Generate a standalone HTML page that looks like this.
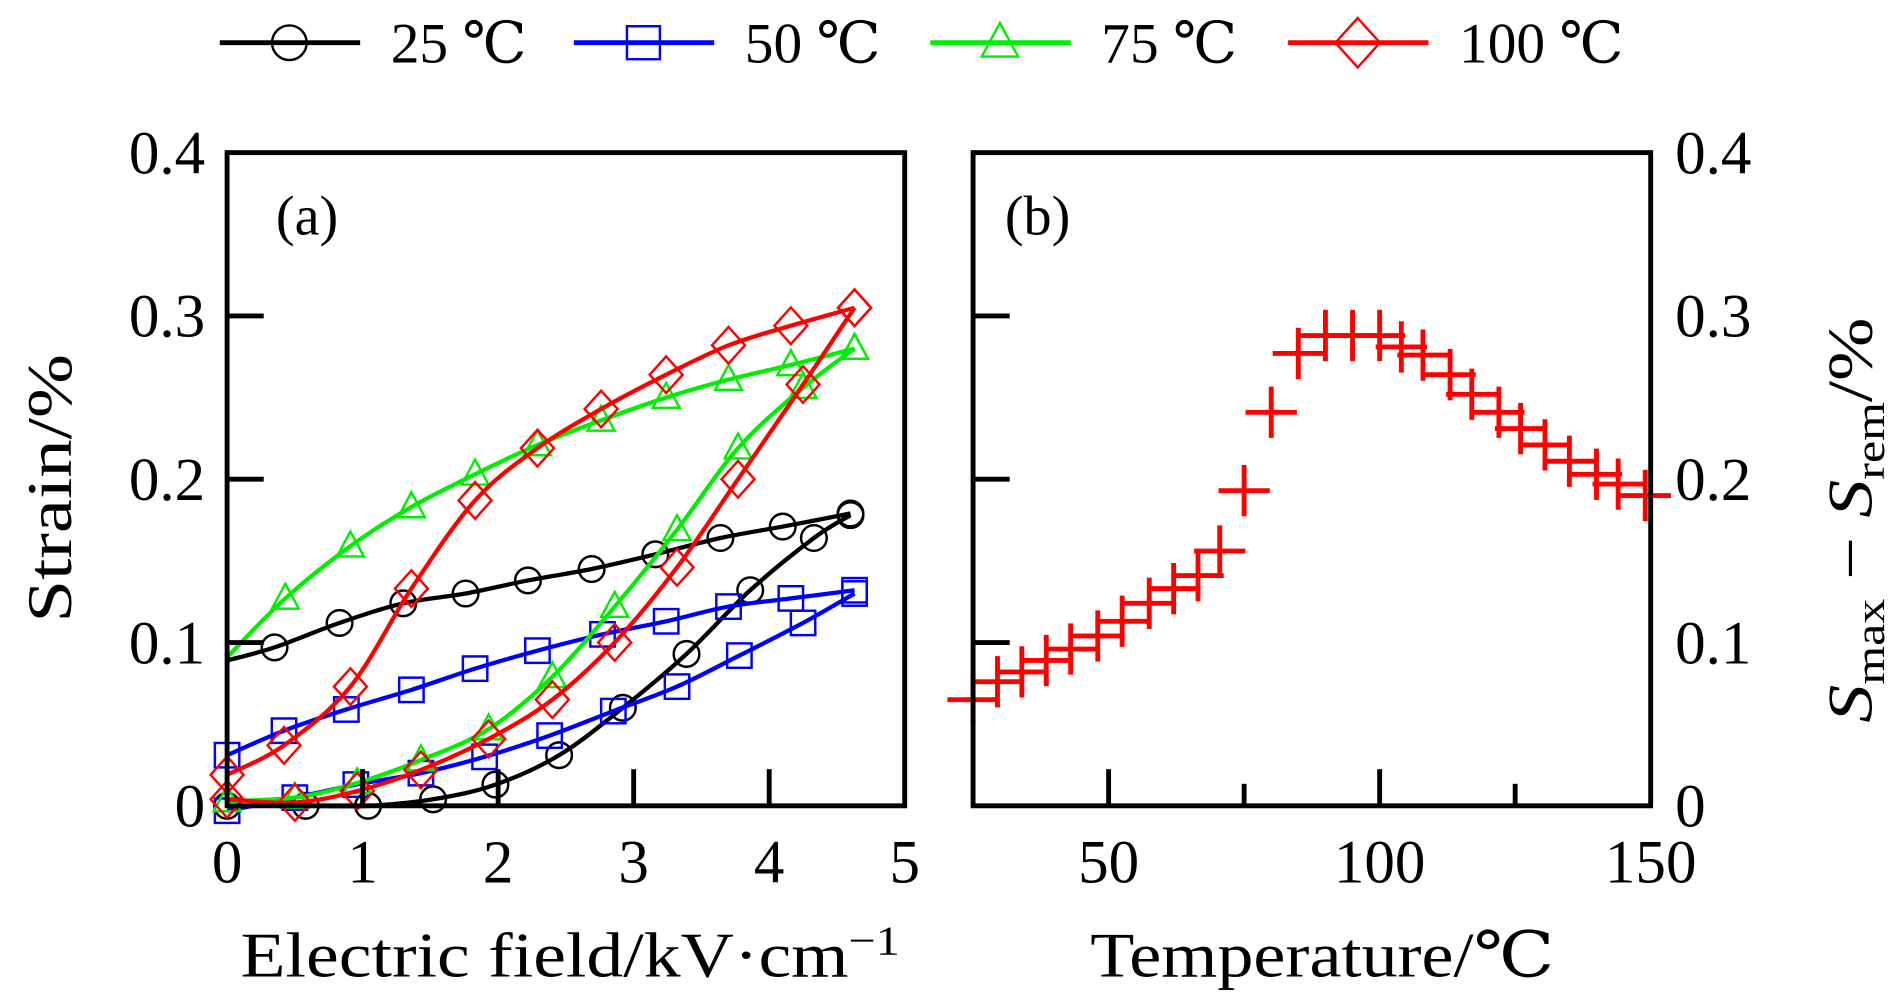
<!DOCTYPE html>
<html><head><meta charset="utf-8"><style>
html,body{margin:0;padding:0;background:#fff;}
svg{display:block;}
text{font-family:"Liberation Serif","DejaVu Serif",serif;fill:#000;}
</style></head><body>
<svg id="chart" width="1890" height="992" viewBox="0 0 1548 812.5" preserveAspectRatio="none">
<g id="legend"></g>
<g id="pa"></g>
<g id="pb"></g>
</svg>
<script>
// Panel (a) data
const seriesNames = ["25 ℃","50 ℃","75 ℃","100 ℃"];
const seriesColors = ["#000000","#0000ff","#00ee00","#ff0000"];
const seriesMarkers = ["circle","square","triangle","diamond"];
const upX_25 = [0,0.35,0.83,1.3,1.76,2.22,2.69,3.16,3.64,4.1,4.6];
const upY_25 = [0.089,0.097,0.112,0.124,0.13,0.138,0.145,0.154,0.164,0.171,0.179];
const loX_25 = [0,0.58,1.04,1.52,1.98,2.45,2.92,3.39,3.86,4.33,4.6];
const loY_25 = [0,0,0,0.004,0.013,0.031,0.06,0.093,0.132,0.164,0.178];
const upX_50 = [0,0.42,0.88,1.36,1.83,2.29,2.77,3.24,3.7,4.16,4.63];
const upY_50 = [0.031,0.046,0.059,0.071,0.084,0.095,0.105,0.113,0.122,0.127,0.132];
const loX_50 = [0,0.5,0.95,1.43,1.9,2.38,2.85,3.32,3.78,4.25,4.63];
const loY_50 = [-0.003,0.005,0.013,0.02,0.03,0.043,0.058,0.073,0.092,0.112,0.13];
const upX_75 = [0,0.43,0.91,1.36,1.83,2.29,2.76,3.24,3.7,4.16,4.63];
const upY_75 = [0.091,0.127,0.159,0.183,0.203,0.221,0.236,0.25,0.261,0.27,0.28];
const loX_75 = [0,0.5,0.96,1.43,1.93,2.4,2.86,3.32,3.77,4.25,4.63];
const loY_75 = [0.003,0.005,0.014,0.028,0.047,0.079,0.122,0.169,0.219,0.256,0.28];
const upX_100 = [0,0.42,0.91,1.36,1.83,2.29,2.76,3.24,3.7,4.16,4.63];
const upY_100 = [0.019,0.037,0.073,0.133,0.187,0.219,0.243,0.264,0.282,0.294,0.305];
const loX_100 = [0,0.5,0.96,1.43,1.93,2.4,2.86,3.32,3.77,4.25,4.63];
const loY_100 = [0.004,0.002,0.009,0.022,0.041,0.065,0.1,0.146,0.2,0.258,0.305];
const xTicksA = [0,1,2,3,4,5];
const yTicks = [0,0.1,0.2,0.3,0.4];
const yTickLabels = ["0","0.1","0.2","0.3","0.4"];
// Panel (b) data
const tempC = [25,29.5,34,38.5,43,48,52.5,57.5,62,66.5,70.5,75,80,85,90,95,100,104,108,113,117,122,126,130.5,135,140,144,149];
const deltaS = [0.065,0.076,0.082,0.089,0.096,0.104,0.113,0.124,0.133,0.141,0.156,0.193,0.241,0.277,0.288,0.288,0.288,0.281,0.276,0.264,0.252,0.241,0.231,0.221,0.211,0.203,0.197,0.19];
const xTicksB = [50,100,150];

const NS="http://www.w3.org/2000/svg";
function mk(parent,tag,attrs,txt){const e=document.createElementNS(NS,tag);for(const k in attrs)e.setAttribute(k,attrs[k]);if(txt!==undefined)e.textContent=txt;parent.appendChild(e);return e;}
const plotTop=125,plotBot=660;
const yS=v=>plotBot-(v/0.4)*(plotBot-plotTop);
const axL=186,axR=741;
const xA=v=>axL+v/5*(axR-axL);
const bL=797,bR=1352;
const xB=t=>bL+(t-25)/125*(bR-bL);

function marker(g,type,x,y,color,s){
  let e;
  if(type==="circle"){e=mk(g,"circle",{cx:x,cy:y,r:10.5*s,fill:"none",stroke:color,"stroke-width":2});}
  else if(type==="square"){e=mk(g,"rect",{x:x-10*s,y:y-10*s,width:20*s,height:20*s,fill:"none",stroke:color,"stroke-width":2});}
  else if(type==="triangle"){const h=12*s;e=mk(g,"polygon",{points:`${x},${y-h} ${x-11*s},${y+h*0.7} ${x+11*s},${y+h*0.7}`,fill:"none",stroke:color,"stroke-width":2});}
  else {const h=15*s;e=mk(g,"polygon",{points:`${x},${y-h} ${x+h*0.9},${y} ${x},${y+h} ${x-h*0.9},${y}`,fill:"none",stroke:color,"stroke-width":2});}
  
  
}
function smooth(pts){
  let d=`M${pts[0][0]},${pts[0][1]}`;
  for(let i=0;i<pts.length-1;i++){
    const p0=pts[Math.max(0,i-1)],p1=pts[i],p2=pts[i+1],p3=pts[Math.min(pts.length-1,i+2)];
    const c1=[p1[0]+(p2[0]-p0[0])/6,p1[1]+(p2[1]-p0[1])/6];
    const c2=[p2[0]-(p3[0]-p1[0])/6,p2[1]-(p3[1]-p1[1])/6];
    d+=` C${c1[0]},${c1[1]} ${c2[0]},${c2[1]} ${p2[0]},${p2[1]}`;
  }
  return d;
}

// Legend
const lg=document.getElementById('legend');
const legX=[180,470,762,1055];
seriesNames.forEach((n,i)=>{
  const g=mk(lg,"g",{});
  
  
  mk(g,"line",{x1:legX[i],y1:35,x2:legX[i]+115,y2:35,stroke:seriesColors[i],"stroke-width":4});
  marker(g,seriesMarkers[i],legX[i]+57,35,seriesColors[i],1.35);
  const t=mk(g,"text",{x:legX[i]+140,y:51,"font-size":47},n);
  
  
});

// Panel a
const pa=document.getElementById('pa');
const allUp=[[upX_25,upY_25],[upX_50,upY_50],[upX_75,upY_75],[upX_100,upY_100]];
const allLo=[[loX_25,loY_25],[loX_50,loY_50],[loX_75,loY_75],[loX_100,loY_100]];
for(let i=0;i<4;i++){
  const g=mk(pa,"g",{});
  
  
  [allUp[i],allLo[i]].forEach(([xs,ys])=>{
    const pts=xs.map((x,k)=>[xA(x),yS(ys[k])]);
    const p=mk(g,"path",{d:smooth(pts),fill:"none",stroke:seriesColors[i],"stroke-width":3.5});
    
    
    pts.forEach((pt,k)=>{ if(!(xs===allUp[i][0]&&k===0&&i!==3&&i!==1)) marker(g,seriesMarkers[i],pt[0],pt[1],seriesColors[i],1); });
  });
}
const fa=mk(pa,"rect",{x:axL,y:plotTop,width:axR-axL,height:plotBot-plotTop,fill:"none",stroke:"#000","stroke-width":4});

yTicks.forEach((v,i)=>{
  if(v>0&&v<0.4) mk(pa,"line",{x1:axL,y1:yS(v),x2:axL+30,y2:yS(v),stroke:"#000","stroke-width":4});
  const t=mk(pa,"text",{x:168,y:yS(v)+17,"font-size":50,"text-anchor":"end"},yTickLabels[i]);
  
});
xTicksA.forEach(v=>{
  if(v>0&&v<5) mk(pa,"line",{x1:xA(v),y1:plotBot,x2:xA(v),y2:plotBot-30,stroke:"#000","stroke-width":4});
  const t=mk(pa,"text",{x:xA(v),y:723,"font-size":50,"text-anchor":"middle"},String(v));
  
});
let t=mk(pa,"text",{x:226,y:192,"font-size":46},"(a)");

t=mk(pa,"text",{x:197,y:800,"font-size":52,textLength:540,lengthAdjust:"spacingAndGlyphs"},"");
t.innerHTML='Electric field/kV·cm<tspan dy="-18" font-size="34">−1</tspan>';

t=mk(pa,"text",{x:58,y:400,"font-size":52,"text-anchor":"middle",textLength:220,lengthAdjust:"spacingAndGlyphs",transform:"rotate(-90 58 400)"},"Strain/%");


// Panel b
const pb=document.getElementById('pb');
const cg=mk(pb,"g",{});

tempC.forEach((T,k)=>{
  const x=xB(T),y=yS(deltaS[k]);
  const p=mk(cg,"path",{d:`M${x-21},${y}H${x+21}M${x},${y-21}V${y+21}`,stroke:"#ff0000","stroke-width":4,fill:"none"});
  
});
const fb=mk(pb,"rect",{x:bL,y:plotTop,width:bR-bL,height:plotBot-plotTop,fill:"none",stroke:"#000","stroke-width":4});

yTicks.forEach((v,i)=>{
  if(v>0&&v<0.4) mk(pb,"line",{x1:bL,y1:yS(v),x2:bL+30,y2:yS(v),stroke:"#000","stroke-width":4});
  const t=mk(pb,"text",{x:1372,y:yS(v)+17,"font-size":50},yTickLabels[i]);
  
});
[50,75,100,125].forEach(v=>{
  const len=(v%50===0)?30:18;
  mk(pb,"line",{x1:xB(v),y1:plotBot,x2:xB(v),y2:plotBot-len,stroke:"#000","stroke-width":4});
});
xTicksB.forEach(v=>{
  const t=mk(pb,"text",{x:xB(v),y:723,"font-size":50,"text-anchor":"middle"},String(v));
  
});
t=mk(pb,"text",{x:823,y:192,"font-size":46},"(b)");

t=mk(pb,"text",{x:893,y:800,"font-size":52,textLength:380,lengthAdjust:"spacingAndGlyphs"},"Temperature/℃");

t=mk(pb,"text",{x:1533,y:426,"font-size":52,"text-anchor":"middle",textLength:332,lengthAdjust:"spacingAndGlyphs",transform:"rotate(-90 1533 426)"},"");
t.innerHTML='<tspan font-style="italic">S</tspan><tspan dy="10" font-size="34">max</tspan><tspan dy="-10"> − </tspan><tspan font-style="italic">S</tspan><tspan dy="10" font-size="34">rem</tspan><tspan dy="-10">/%</tspan>';

</script>
</body></html>
